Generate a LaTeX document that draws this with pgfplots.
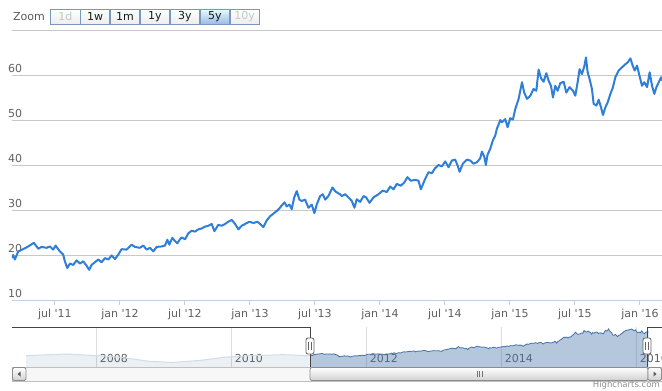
\documentclass[border=0pt]{standalone}
\usepackage{pgfplots}
\pgfplotsset{compat=1.18}
\usepackage{pgfplotstable}
\usepackage{fontspec}
\setmainfont{DejaVu Sans}
\definecolor{hcline}{HTML}{2F7ED8}
\definecolor{gridc}{HTML}{C8C8C8}
\definecolor{axisc}{HTML}{C0D0E0}
\definecolor{labc}{HTML}{606060}
\definecolor{navblue}{HTML}{4572A7}
\definecolor{navgrid}{HTML}{DCDCDC}
\definecolor{btnborder}{HTML}{7B96BF}
\definecolor{outl}{HTML}{444444}

\pgfplotstableread{
x y
2011.166 19.3
2011.179 20.0
2011.192 19.0
2011.218 20.8
2011.256 21.3
2011.295 21.9
2011.338 22.7
2011.372 21.4
2011.397 21.8
2011.436 21.6
2011.461 21.9
2011.487 21.2
2011.505 22.1
2011.538 20.8
2011.564 20.1
2011.577 18.6
2011.595 17.1
2011.616 18.1
2011.641 17.8
2011.667 18.8
2011.693 18.1
2011.718 18.6
2011.744 17.6
2011.764 16.7
2011.782 17.8
2011.808 18.4
2011.834 19.0
2011.859 18.4
2011.885 19.3
2011.911 19.0
2011.936 19.9
2011.962 19.1
2011.988 20.1
2012.013 21.3
2012.052 21.2
2012.090 22.3
2012.116 21.8
2012.154 21.6
2012.180 22.1
2012.206 21.2
2012.231 21.6
2012.257 20.8
2012.283 21.8
2012.321 21.9
2012.347 22.1
2012.365 23.4
2012.380 22.3
2012.403 23.8
2012.424 23.1
2012.442 22.6
2012.462 23.5
2012.475 23.9
2012.501 23.5
2012.526 24.8
2012.552 25.4
2012.578 25.2
2012.603 25.7
2012.629 25.9
2012.655 26.3
2012.680 26.5
2012.706 26.9
2012.727 25.3
2012.757 26.7
2012.783 26.5
2012.809 26.9
2012.834 27.4
2012.860 27.8
2012.886 26.9
2012.911 25.7
2012.937 26.5
2012.963 26.9
2012.996 27.4
2013.027 27.1
2013.058 27.4
2013.078 26.9
2013.104 26.2
2013.130 27.7
2013.155 28.6
2013.194 29.5
2013.219 30.1
2013.245 31.0
2013.266 31.7
2013.283 30.8
2013.304 31.2
2013.322 30.2
2013.340 32.7
2013.360 34.2
2013.381 32.3
2013.399 32.0
2013.425 32.3
2013.450 30.5
2013.476 31.2
2013.496 29.3
2013.514 31.2
2013.540 33.1
2013.561 33.5
2013.579 32.3
2013.604 33.1
2013.635 35.0
2013.656 34.2
2013.674 33.8
2013.694 33.5
2013.707 33.1
2013.733 33.5
2013.758 32.8
2013.784 32.0
2013.804 30.5
2013.822 32.4
2013.848 31.8
2013.874 33.1
2013.894 32.8
2013.920 31.6
2013.951 32.8
2013.989 33.5
2014.022 34.3
2014.053 34.0
2014.079 35.2
2014.105 34.6
2014.130 35.8
2014.161 35.4
2014.187 36.1
2014.212 37.3
2014.238 36.5
2014.271 36.7
2014.297 36.5
2014.315 34.6
2014.348 36.9
2014.374 38.4
2014.400 38.2
2014.425 39.3
2014.451 40.0
2014.477 39.7
2014.502 40.8
2014.528 39.5
2014.554 41.0
2014.579 41.2
2014.600 39.7
2014.613 38.5
2014.638 40.3
2014.669 41.2
2014.695 41.0
2014.720 40.3
2014.746 40.6
2014.772 41.5
2014.785 43.0
2014.803 41.8
2014.815 40.0
2014.828 42.3
2014.849 43.6
2014.869 45.5
2014.887 46.5
2014.900 48.1
2014.913 49.0
2014.926 50.0
2014.939 49.5
2014.964 50.2
2014.982 48.4
2015.003 50.4
2015.023 50.1
2015.041 52.4
2015.067 54.7
2015.093 58.4
2015.110 56.1
2015.131 54.7
2015.157 55.4
2015.182 56.9
2015.203 56.5
2015.221 61.2
2015.239 59.3
2015.259 58.5
2015.280 60.4
2015.298 58.7
2015.316 57.6
2015.331 55.0
2015.349 57.6
2015.367 56.5
2015.388 58.2
2015.413 58.5
2015.434 56.1
2015.459 57.3
2015.485 56.5
2015.503 55.4
2015.521 58.4
2015.536 61.3
2015.554 60.2
2015.572 61.9
2015.585 63.9
2015.598 60.6
2015.613 59.1
2015.631 56.9
2015.644 53.6
2015.665 53.2
2015.683 54.5
2015.701 52.8
2015.716 51.1
2015.734 52.8
2015.752 53.9
2015.773 55.8
2015.793 57.3
2015.811 59.5
2015.837 61.0
2015.862 61.7
2015.888 62.4
2015.906 62.8
2015.927 63.7
2015.944 62.1
2015.960 61.0
2015.978 62.1
2015.996 59.9
2016.016 57.6
2016.034 58.4
2016.055 57.3
2016.075 60.6
2016.093 57.6
2016.111 55.8
2016.127 57.3
2016.145 58.4
2016.163 59.5
2016.173 58.7
}\maindata

\pgfplotstableread{
x y
2006.953 19.0
2007.308 20.7
2007.556 21.8
2008.000 19.0
2008.296 16.8
2008.543 13.4
2008.790 9.4
2009.135 7.7
2009.530 11.1
2009.926 16.8
2010.271 19.0
2010.765 20.7
2011.111 19.0
2011.166 19.3
}\olddata

\newcommand{\fs}[1]{\fontsize{#1bp}{#1bp}\selectfont}

\begin{document}
\begin{tikzpicture}[x=1bp,y=1bp]
\path[use as bounding box] (0,0) rectangle (662,390);

% ---------- main chart ----------
\begin{axis}[
  at={(12bp,90bp)}, anchor=south west,
  scale only axis, width=650bp, height=270bp,
  xmin=2011.17, xmax=2016.17, ymin=10, ymax=70,
  separate axis lines,
  axis x line*=bottom, axis y line*=left,
  x axis line style={draw=axisc, line width=1bp, -},
  y axis line style={draw=none},
  ytick={10,20,30,40,50,60,70},
  yticklabels={10,20,30,40,50,60,{}},
  xtick={2011.5,2012,2012.5,2013,2013.5,2014,2014.5,2015,2015.5,2016},
  xticklabels={jul \textquotesingle11,jan \textquotesingle12,jul \textquotesingle12,jan \textquotesingle13,jul \textquotesingle13,jan \textquotesingle14,jul \textquotesingle14,jan \textquotesingle15,jul \textquotesingle15,jan \textquotesingle16},
  tick align=outside, major tick length=5bp,
  xtick style={draw=axisc, line width=1bp},
  ytick style={draw=none},
  ymajorgrids, major grid style={draw=gridc, line width=1bp},
  tick label style={font=\fs{11}, text=labc},
  yticklabel style={anchor=south west, inner sep=0pt, xshift=1bp, yshift=2bp},
  xticklabel style={anchor=north, inner sep=0pt, yshift=-4bp},
]
\addplot[hcline, line width=2bp, line join=round, no markers] table[x=x,y=y] {\maindata};
\end{axis}

% ---------- navigator ----------
\begin{axis}[
  at={(12bp,23bp)}, anchor=south west,
  scale only axis, width=650bp, height=40bp,
  xmin=2006.745, xmax=2016.375, ymin=0, ymax=67,
  axis line style={draw=none},
  ytick=\empty,
  xtick={2008,2010,2012,2014,2016},
  xticklabels={2008,2010,2012,2014,2016},
  xtick style={draw=none},
  xmajorgrids, major grid style={draw=navgrid, line width=1bp},
  xticklabel style={font=\fs{11}, text=labc, anchor=south west, inner sep=0pt, xshift=3bp, yshift=4bp},
]
\addplot[draw=none, fill=navblue, fill opacity=0.11] table[x=x,y=y] {\olddata} \closedcycle;
\addplot[navblue!25!white, line width=1bp, no markers] table[x=x,y=y] {\olddata};
\addplot[draw=none, fill=navblue, fill opacity=0.4] table[x=x,y=y] {\maindata} \closedcycle;
\addplot[navblue, line width=0.8bp, no markers] table[x=x,y=y] {\maindata};
\end{axis}

% outline
\draw[outl, line width=1bp] (12,63) -- (310,63) -- (310,23);
\draw[outl, line width=1bp] (647,23) -- (647,63) -- (662,63);
% handles
\foreach \hx in {310,647}{
  \draw[fill=white, draw=black!60, line width=0.8bp, rounded corners=2bp] (\hx-4,36) rectangle (\hx+4,52);
  \draw[black!60, line width=0.7bp] (\hx-1.3,40) -- (\hx-1.3,48) (\hx+1.3,40) -- (\hx+1.3,48);
}

% ---------- scrollbar ----------
\draw[draw=black!25, fill=black!3, line width=0.8bp] (12,9) rectangle (662,23);
\draw[draw=black!45, top color=white, bottom color=black!18, line width=0.8bp, rounded corners=2bp] (310,9.5) rectangle (648,22.5);
\draw[black!55, line width=0.7bp] (477,13) -- (477,19) (479.5,13) -- (479.5,19) (482,13) -- (482,19);
\draw[draw=black!45, top color=white, bottom color=black!18, line width=0.8bp, rounded corners=1.5bp] (12.5,9.5) rectangle (26,22.5);
\fill[black!65] (17.5,16) -- (20.5,18.5) -- (20.5,13.5) -- cycle;
\draw[draw=black!45, top color=white, bottom color=black!18, line width=0.8bp, rounded corners=1.5bp] (648,9.5) rectangle (661.5,22.5);
\fill[black!65] (656.5,16) -- (653.5,18.5) -- (653.5,13.5) -- cycle;

% credits
\node[anchor=base east, inner sep=0pt, font=\fs{8.5}, text=black!45] at (660,2.4) {Highcharts.com};

% ---------- range selector ----------
\node[anchor=west, inner sep=0pt, font=\fs{11}, text=black!65] at (13,373.5) {Zoom};
\foreach \lab/\i/\st in {1d/0/0,1w/1/1,1m/2/1,1y/3/1,3y/4/1,5y/5/2,10y/6/0}{
  \pgfmathsetmacro{\bx}{50.7+29.9*\i}
  \ifnum\st=2
    \draw[draw=btnborder, line width=0.8bp, top color=blue!8!cyan!10!white, bottom color={rgb,255:red,156;green,186;blue,228}] (\bx,366) rectangle ++(29.2,15);
  \else
    \draw[draw=btnborder, line width=0.8bp, top color=white, bottom color=black!7] (\bx,366) rectangle ++(29.2,15);
  \fi
  \ifnum\st=0
    \node[font=\fs{11}, text=black!22, inner sep=0pt] at (\bx+14.6,373.5) {\lab};
  \else
    \node[font=\fs{11}, text=black!90, inner sep=0pt] at (\bx+14.6,373.5) {\lab};
  \fi
}
\end{tikzpicture}
\end{document}
